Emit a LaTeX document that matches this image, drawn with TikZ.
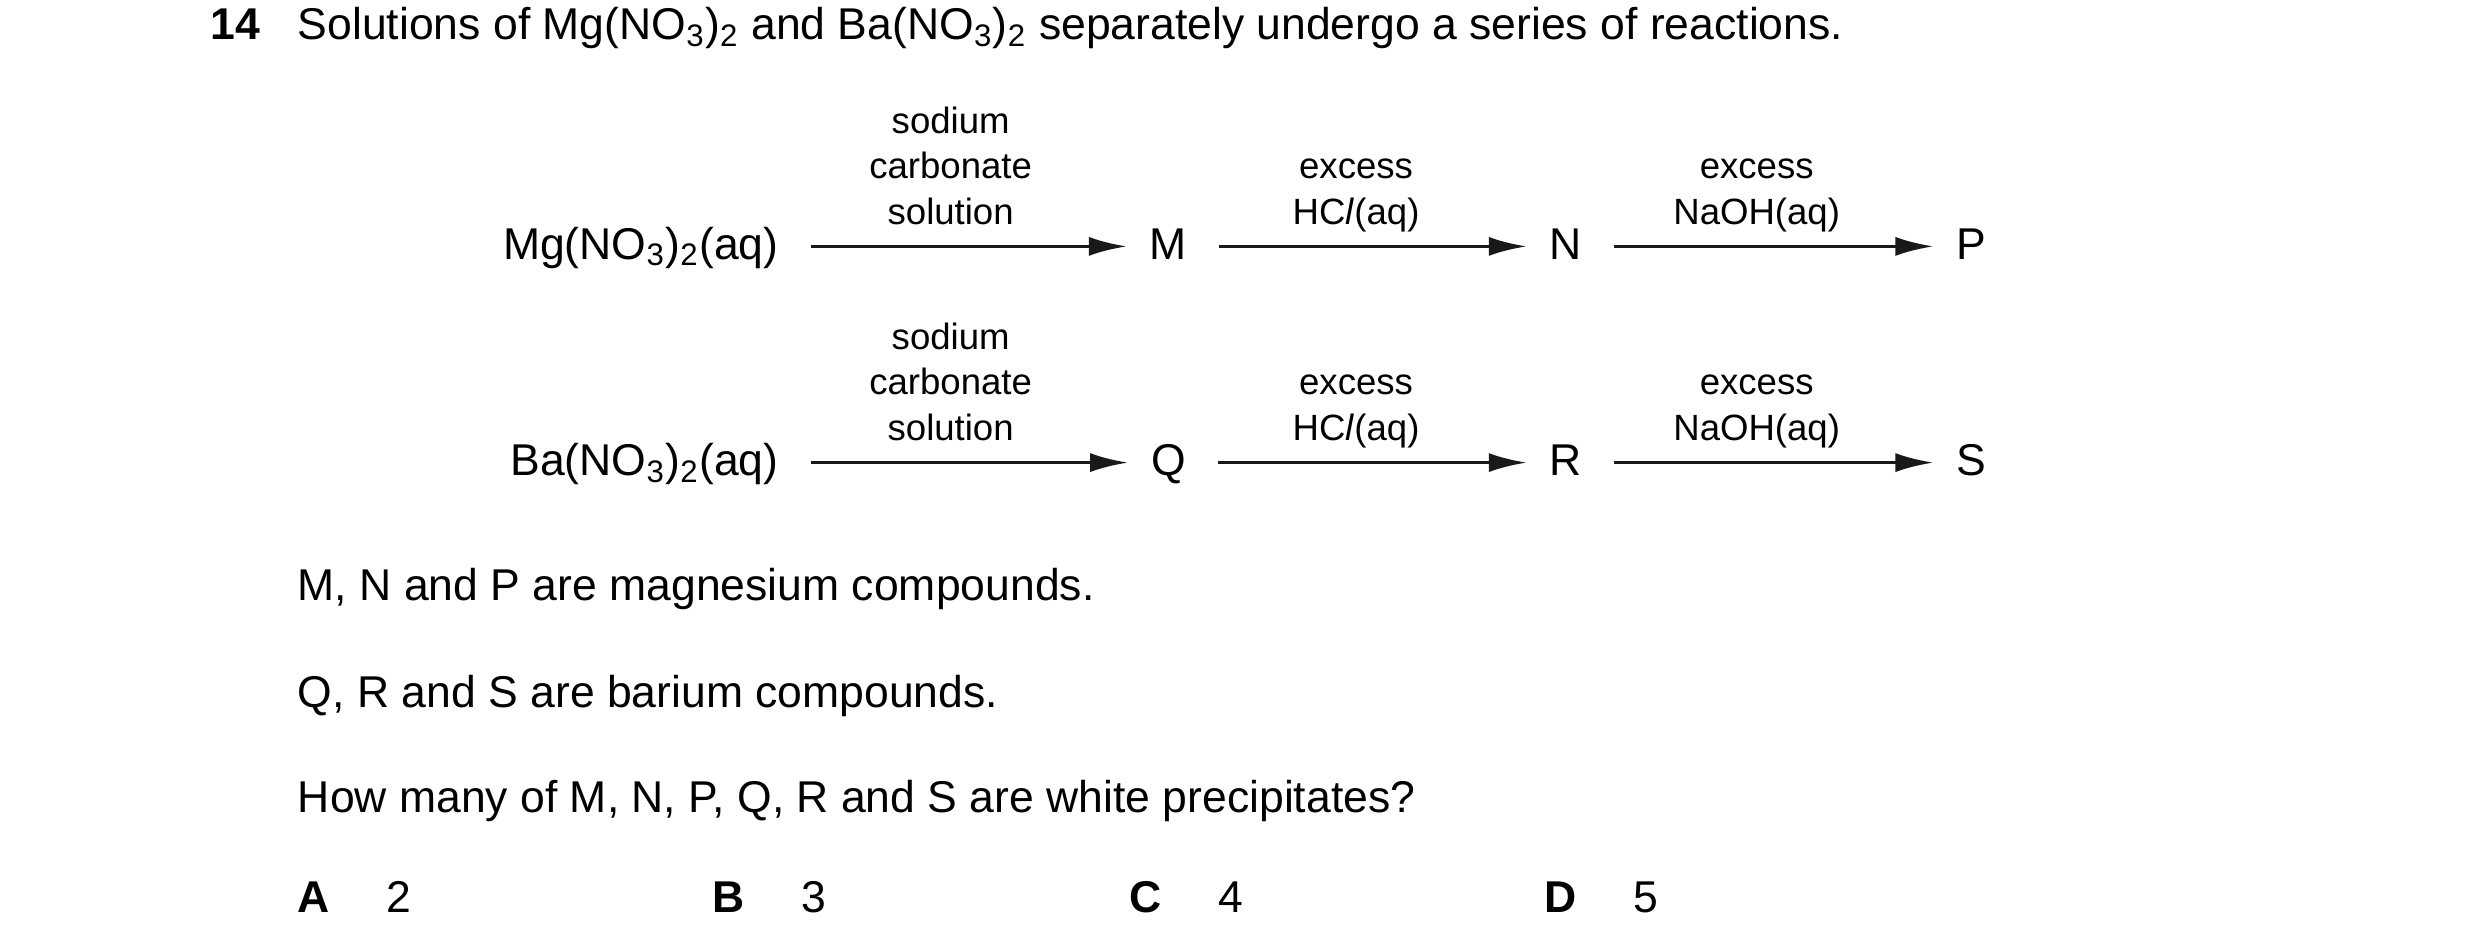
\documentclass[tikz,border=0pt]{standalone}
\usepackage{fontspec}
\setmainfont{Liberation Sans}
\usetikzlibrary{arrows.meta, positioning}

\begin{document}
\begin{tikzpicture}[
    x=0.5pt, y=-0.5pt,
    txt/.style={font=\fontsize{14}{17}\selectfont, inner sep=0pt, anchor=base west},
    chem/.style={font=\fontsize{14}{17}\selectfont, inner sep=0pt, anchor=base},
    cond/.style={font=\fontsize{11.5}{14.3}\selectfont, inner sep=0pt, anchor=base, align=center},
    arrow/.style={-{Latex[length=12pt, width=6pt]}, line width=1.1pt, black!90}
]
    \useasboundingbox (0,0) rectangle (1560,597);
    % Question
    \node[txt, font=\fontsize{14}{17}\selectfont\bfseries] (num) at (132,25) {14};
    \node[txt] (intro) at (187,25) {Solutions of Mg(NO\textsubscript{3})\textsubscript{2} and Ba(NO\textsubscript{3})\textsubscript{2} separately undergo a series of reactions.};

    % Nodes - magnesium row
    \node[chem, anchor=base east] (mg) at (490,163) {Mg(NO\textsubscript{3})\textsubscript{2}(aq)};
    \node[chem] (m) at (735,163) {M};
    \node[chem] (n) at (985,163) {N};
    \node[chem] (p) at (1240,163) {P};

    % Nodes - barium row
    \node[chem, anchor=base east] (ba) at (490,299) {Ba(NO\textsubscript{3})\textsubscript{2}(aq)};
    \node[chem] (q) at (735,299) {Q};
    \node[chem] (r) at (985,299) {R};
    \node[chem] (s) at (1240,299) {S};

    % Arrows
    \foreach \a/\b/\y in {mg/m/155, m/n/155, n/p/155, ba/q/291, q/r/291, r/s/291}
        \draw[arrow] ([xshift=10pt]\a.east |- 0,\y) -- ([xshift=-7pt]\b.west |- 0,\y);

    % Conditions
    \foreach \y/\t in {0/mgc, 136/bac} {
        \node[cond] (\t1) at (598,141+\y) {sodium\\carbonate\\solution};
        \node[cond] (\t2) at (853,141+\y) {excess\\HC\textit{l}(aq)};
        \node[cond] (\t3) at (1105,141+\y) {excess\\NaOH(aq)};
    }

    % Statements
    \node[txt] (st1) at (187,378) {M, N and P are magnesium compounds.};
    \node[txt] (st2) at (187,445) {Q, R and S are barium compounds.};
    \node[txt] (ask) at (187,511) {How many of M, N, P, Q, R and S are white precipitates?};

    % Options
    \foreach \x/\l/\v in {187/A/2, 448/B/3, 710/C/4, 971/D/5} {
        \node[txt, font=\fontsize{14}{17}\selectfont\bfseries] (opt\l) at (\x,574) {\l};
        \node[txt] (val\l) at (\x+56,574) {\v};
    }
\end{tikzpicture}
\end{document}
